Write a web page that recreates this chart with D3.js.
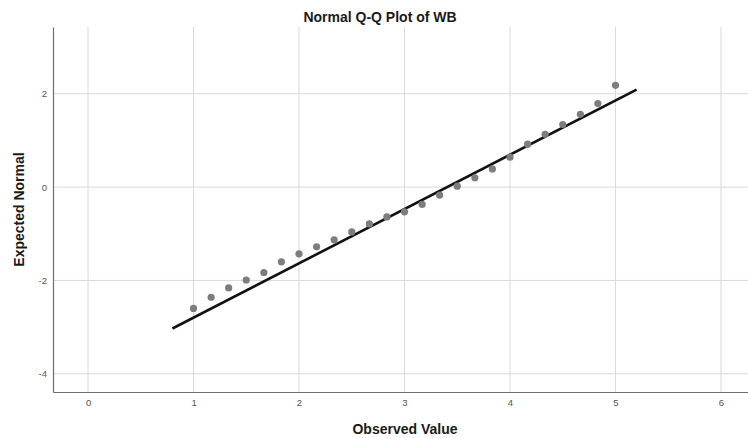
<!DOCTYPE html>
<html>
<head>
<meta charset="utf-8">
<script src="https://cdn.jsdelivr.net/npm/d3@7"></script>
<style>
  body { margin: 0; background: #fff; }
  svg { display: block; font-family: "Liberation Sans", Arial, sans-serif; }
</style>
</head>
<body>
<div id="chart"></div>
<script>
// observed values (WB) and their expected normal scores
const observed = [1, 1.167, 1.333, 1.5, 1.667, 1.833, 2, 2.167, 2.333, 2.5, 2.667, 2.833,
  3, 3.167, 3.333, 3.5, 3.667, 3.833, 4, 4.167, 4.333, 4.5, 4.667, 4.833, 5];
const expected = [-2.60, -2.36, -2.16, -1.99, -1.83, -1.60, -1.43, -1.28, -1.13, -0.96, -0.79, -0.64,
  -0.53, -0.37, -0.17, 0.02, 0.20, 0.39, 0.64, 0.92, 1.13, 1.34, 1.56, 1.79, 2.18];

// reference line end points
const lineX = [0.8, 5.2];
const lineY = [-3.03, 2.09];

const xTicks = [0, 1, 2, 3, 4, 5, 6];
const yTicks = [-4, -2, 0, 2];

const W = 748, H = 438;
const plotL = 53, plotR = 748, plotT = 27, plotB = 392;

const svg = d3.select("#chart").append("svg")
  .attr("width", W)
  .attr("height", H);

const x = d3.scaleLinear().domain([-0.332, 6.256]).range([plotL, plotR]);
const y = d3.scaleLinear().domain([-4.39, 3.43]).range([plotB, plotT]);

// grid
svg.append("g")
  .selectAll("line")
  .data(xTicks)
  .join("line")
  .attr("x1", d => x(d)).attr("x2", d => x(d))
  .attr("y1", plotT).attr("y2", plotB)
  .attr("stroke", "#d9d9d9")
  .attr("stroke-width", 1);

svg.append("g")
  .selectAll("line")
  .data(yTicks)
  .join("line")
  .attr("x1", plotL).attr("x2", plotR)
  .attr("y1", d => y(d)).attr("y2", d => y(d))
  .attr("stroke", "#d9d9d9")
  .attr("stroke-width", 1);

// axes (plain hyphen for negatives, like the original)
const xAxis = svg.append("g")
  .attr("transform", `translate(0,${plotB})`)
  .call(d3.axisBottom(x).tickValues(xTicks).tickSize(0).tickPadding(7).tickFormat(d => String(d)));

const yAxis = svg.append("g")
  .attr("transform", `translate(${plotL},0)`)
  .call(d3.axisLeft(y).tickValues(yTicks).tickSize(0).tickPadding(6).tickFormat(d => String(d)));

[xAxis, yAxis].forEach(g => {
  g.select(".domain").attr("stroke", "#6e6e6e").attr("stroke-width", 1.2);
  g.selectAll("text")
    .style("font-size", "9.5px")
    .style("font-family", "Liberation Sans, Arial, sans-serif")
    .attr("fill", "#555");
});

// reference line
svg.append("line")
  .attr("x1", x(lineX[0])).attr("y1", y(lineY[0]))
  .attr("x2", x(lineX[1])).attr("y2", y(lineY[1]))
  .attr("stroke", "#111")
  .attr("stroke-width", 2.6);

// points
svg.append("g")
  .selectAll("circle")
  .data(observed.map((d, i) => [d, expected[i]]))
  .join("circle")
  .attr("cx", d => x(d[0]))
  .attr("cy", d => y(d[1]))
  .attr("r", 3.6)
  .attr("fill", "#7d7d7d");

// title
svg.append("text")
  .attr("x", 380)
  .attr("y", 22)
  .attr("text-anchor", "middle")
  .style("font-size", "14px")
  .style("font-weight", "bold")
  .attr("fill", "#1a1a1a")
  .text("Normal Q-Q Plot of WB");

// axis titles
svg.append("text")
  .attr("x", 405)
  .attr("y", 434)
  .attr("text-anchor", "middle")
  .style("font-size", "14px")
  .style("font-weight", "bold")
  .attr("fill", "#1a1a1a")
  .text("Observed Value");

svg.append("text")
  .attr("transform", `translate(24,${(plotT + plotB) / 2}) rotate(-90)`)
  .attr("text-anchor", "middle")
  .style("font-size", "14px")
  .style("font-weight", "bold")
  .attr("fill", "#1a1a1a")
  .text("Expected Normal");
</script>
</body>
</html>
